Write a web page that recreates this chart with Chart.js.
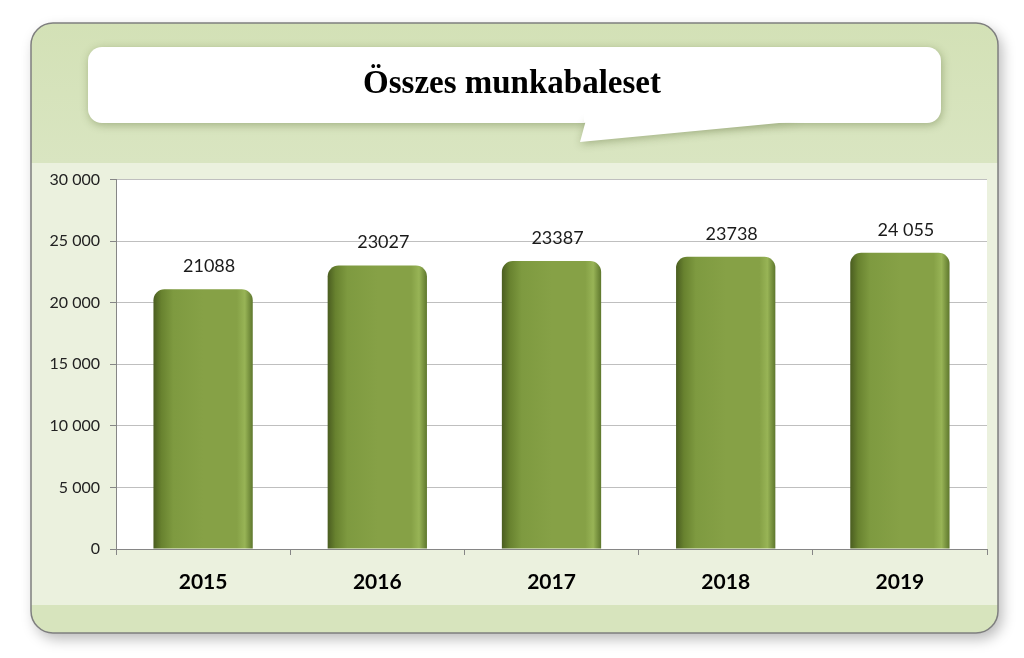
<!DOCTYPE html>
<html>
<head>
<meta charset="utf-8">
<script src="https://cdn.jsdelivr.net/npm/chart.js@4"></script>
<style>
  html, body { margin: 0; padding: 0; background: #fff; }
  #wrap { width: 1024px; height: 658px; }
</style>
</head>
<body>
<div id="wrap"><canvas id="balesetChart" width="1024" height="658"></canvas></div>
<script>
const years = ['2015', '2016', '2017', '2018', '2019'];
const accidents = [21088, 23027, 23387, 23738, 24055];
const valueLabels = ['21088', '23027', '23387', '23738', '24 055'];
const yTickLabels = ['0', '5 000', '10 000', '15 000', '20 000', '25 000', '30 000'];
const chartTitle = 'Összes munkabaleset';

// panel, title bubble and white plot background
const panelPlugin = {
  id: 'panel',
  beforeDraw(chart) {
    const c = chart.ctx;
    const a = chart.chartArea;
    c.save();
    // outer panel with shadow
    c.shadowColor = 'rgba(0,0,0,0.28)';
    c.shadowBlur = 14;
    c.shadowOffsetX = 4;
    c.shadowOffsetY = 6;
    c.beginPath();
    c.roundRect(31, 23, 967, 610, 22);
    c.fillStyle = '#ebf1de';
    c.fill();
    c.shadowColor = 'transparent';
    c.save();
    c.clip();
    const g = c.createLinearGradient(0, 23, 0, 163);
    g.addColorStop(0, '#d3e1b6');
    g.addColorStop(1, '#d9e5c1');
    c.fillStyle = g;
    c.fillRect(31, 23, 967, 140);
    c.fillStyle = '#d7e4bd';
    c.fillRect(31, 605, 967, 28);
    c.restore();
    c.strokeStyle = '#7f7f7f';
    c.lineWidth = 1.5;
    c.stroke();

    // speech bubble
    c.shadowColor = 'rgba(60,80,20,0.35)';
    c.shadowBlur = 8;
    c.shadowOffsetX = 1;
    c.shadowOffsetY = 2;
    c.fillStyle = '#ffffff';
    c.beginPath();
    c.roundRect(88, 47, 853, 76, 14);
    c.fill();
    c.beginPath();
    c.moveTo(586, 120);
    c.lineTo(580, 142);
    c.lineTo(800, 121);
    c.closePath();
    c.fill();
    c.shadowColor = 'transparent';
    c.fillRect(584, 110, 220, 12);

    // plot area
    c.fillStyle = '#ffffff';
    c.fillRect(a.left, a.top, a.right - a.left, a.bottom - a.top);
    c.restore();
  }
};

const valueLabelPlugin = {
  id: 'valueLabels',
  afterDatasetsDraw(chart) {
    const c = chart.ctx;
    const meta = chart.getDatasetMeta(0);
    c.save();
    c.font = '18px Lato';
    c.fillStyle = '#1a1a1a';
    c.textAlign = 'center';
    c.textBaseline = 'middle';
    meta.data.forEach((bar, i) => {
      c.fillText(valueLabels[i], bar.x + 6, bar.y - 23);
    });
    c.restore();
  }
};

function barGradient(context) {
  const chart = context.chart;
  const x = chart.scales.x;
  if (!x || !chart.chartArea) return '#82a044';
  const center = x.getPixelForValue(context.dataIndex);
  const w = (x.width / years.length) * 0.57;
  const g = chart.ctx.createLinearGradient(center - w / 2, 0, center + w / 2, 0);
  g.addColorStop(0, '#4a5d20');
  g.addColorStop(0.08, '#68822f');
  g.addColorStop(0.2, '#7e9a40');
  g.addColorStop(0.5, '#86a146');
  g.addColorStop(0.84, '#86a146');
  g.addColorStop(0.92, '#98b456');
  g.addColorStop(1, '#5e772d');
  return g;
}

new Chart(document.getElementById('balesetChart'), {
  type: 'bar',
  data: {
    labels: years,
    datasets: [{
      data: accidents,
      backgroundColor: barGradient,
      borderWidth: 0,
      borderRadius: { topLeft: 11, topRight: 11, bottomLeft: 0, bottomRight: 0 },
      borderSkipped: false,
      barPercentage: 0.57,
      categoryPercentage: 1
    }]
  },
  options: {
    responsive: false,
    animation: false,
    layout: { padding: { left: 37, right: 37, top: 0, bottom: 56 } },
    plugins: {
      legend: { display: false },
      tooltip: { enabled: false },
      title: {
        display: true,
        text: chartTitle,
        color: '#000',
        font: { family: 'Liberation Serif', size: 33, weight: 'bold' },
        padding: { top: 65, bottom: 75 }
      }
    },
    scales: {
      x: {
        grid: { offset: true, drawOnChartArea: false, drawTicks: true, tickLength: 6, color: '#868686' },
        border: { color: '#868686', width: 1 },
        ticks: { color: '#000', font: { family: 'Lato', size: 21, weight: 'bold' }, padding: 15 },
        afterFit(scale) { scale.height = 53; }
      },
      y: {
        min: 0,
        max: 30000,
        ticks: {
          stepSize: 5000,
          color: '#222',
          font: { family: 'Lato', size: 16 },
          padding: 10,
          callback: (v) => yTickLabels[v / 5000]
        },
        grid: { color: '#bfbfbf', tickLength: 6, tickColor: '#868686' },
        border: { color: '#868686', width: 1 },
        afterFit(scale) { scale.width = 79; }
      }
    }
  },
  plugins: [panelPlugin, valueLabelPlugin]
});
</script>
</body>
</html>
